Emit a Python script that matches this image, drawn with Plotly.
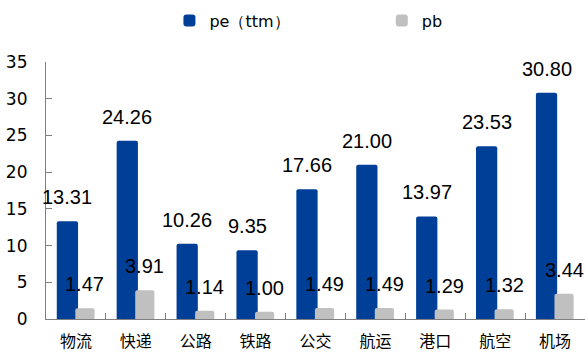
import plotly.graph_objects as go

categories = ["物流", "快递", "公路", "铁路", "公交", "航运", "港口", "航空", "机场"]
pe_ttm = [13.31, 24.26, 10.26, 9.35, 17.66, 21.00, 13.97, 23.53, 30.80]
pb = [1.47, 3.91, 1.14, 1.00, 1.49, 1.49, 1.29, 1.32, 3.44]
y_ticks = [0, 5, 10, 15, 20, 25, 30, 35]

PE_COLOR = "#003F98"
PB_COLOR = "#C0C0C0"

fig = go.Figure()
fig.add_trace(go.Bar(
    x=categories, y=pe_ttm, name="pe（ttm）", legend="legend",
    marker=dict(color=PE_COLOR, cornerradius=2, line=dict(width=0)),
    width=0.355, offset=-0.32,
))
fig.add_trace(go.Bar(
    x=categories, y=pb, name="pb", legend="legend2",
    marker=dict(color=PB_COLOR, cornerradius=2, line=dict(width=0)),
    width=0.32, offset=-0.01,
))

label_font = dict(family="Liberation Sans, Arial, sans-serif", size=20, color="#000000")
annotations = []
for c, v in zip(categories, pe_ttm):
    annotations.append(dict(x=c, y=v, xref="x", yref="y", text=f"{v:.2f}",
                            showarrow=False, xanchor="center", yanchor="middle",
                            xshift=-8.5, yshift=24, font=label_font))
for c, v in zip(categories, pb):
    annotations.append(dict(x=c, y=v, xref="x", yref="y", text=f"{v:.2f}",
                            showarrow=False, xanchor="center", yanchor="middle",
                            xshift=9, yshift=24, font=label_font))

legend_font = dict(family="DejaVu Sans, sans-serif", size=16, color="#000000")
fig.update_layout(
    width=585, height=354,
    margin=dict(l=46, r=0, t=62, b=35),
    paper_bgcolor="white", plot_bgcolor="white",
    barmode="overlay",
    showlegend=True,
    legend=dict(orientation="h", x=0.229, y=0.99, yref="container", yanchor="top",
                xanchor="left", font=legend_font, itemclick=False,
                bgcolor="rgba(0,0,0,0)"),
    legend2=dict(orientation="h", x=0.623, y=0.99, yref="container", yanchor="top",
                 xanchor="left", font=legend_font, itemclick=False,
                 bgcolor="rgba(0,0,0,0)"),
    annotations=annotations,
    xaxis=dict(
        type="category", range=[-0.5, 8.5],
        showline=True, linecolor="#7f7f7f", linewidth=1.2,
        ticks="inside", ticklen=6, tickcolor="#7f7f7f", tickson="boundaries",
        showgrid=False, zeroline=False,
        tickfont=dict(family="Noto Sans CJK SC, sans-serif", size=16, color="#000000"),
        ticklabelstandoff=8,
    ),
    yaxis=dict(
        range=[0, 35], tickvals=y_ticks,
        showline=True, linecolor="#7f7f7f", linewidth=1.2,
        ticks="inside", ticklen=6, tickcolor="#7f7f7f",
        showgrid=False, zeroline=False,
        tickfont=dict(family="DejaVu Sans, sans-serif", size=17, color="#000000"),
        ticklabelstandoff=14,
    ),
)

fig.write_html("out.html")
